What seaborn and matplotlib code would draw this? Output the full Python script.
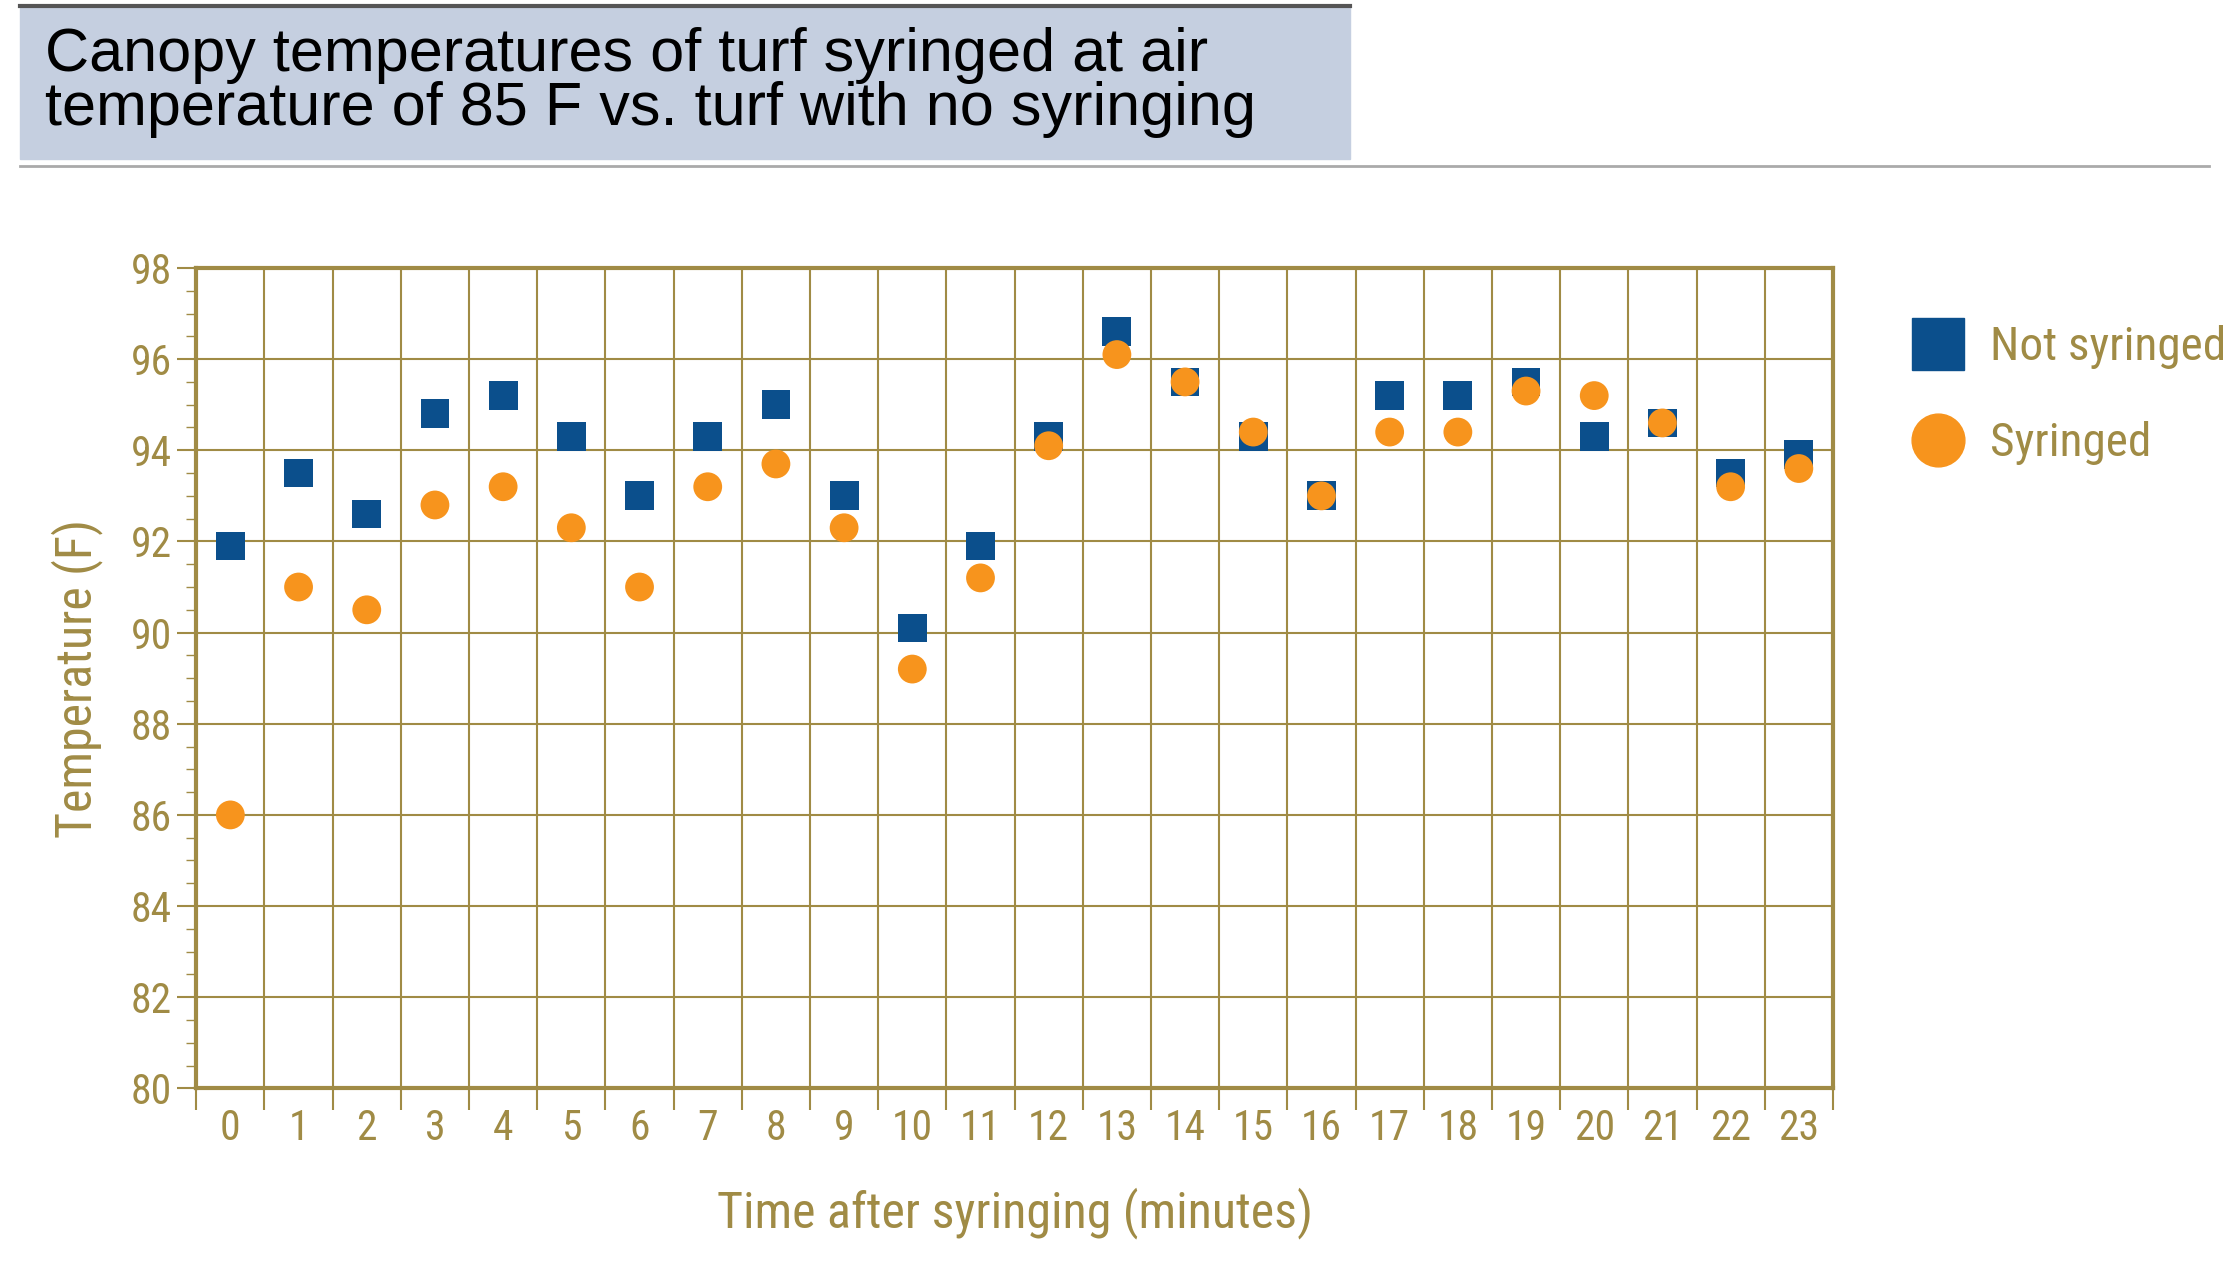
import numpy as np
import pandas as pd
import matplotlib.pyplot as plt
import seaborn as sns
from matplotlib.lines import Line2D

minutes = list(range(24))
not_syringed = [91.9, 93.5, 92.6, 94.8, 95.2, 94.3, 93.0, 94.3, 95.0, 93.0, 90.1, 91.9,
                94.3, 96.6, 95.5, 94.3, 93.0, 95.2, 95.2, 95.5, 94.3, 94.6, 93.5, 93.9]
syringed = [86.0, 91.0, 90.5, 92.8, 93.2, 92.3, 91.0, 93.2, 93.7, 92.3, 89.2, 91.2,
            94.1, 96.1, 95.5, 94.4, 93.0, 94.4, 94.4, 95.3, 95.2, 94.6, 93.2, 93.6]
y_ticks = [80, 82, 84, 86, 88, 90, 92, 94, 96, 98]

olive = '#a08b45'
blue = '#0b4f8c'
orange = '#f7941d'
narrow = ['Liberation Sans Narrow', 'Roboto Condensed', 'DejaVu Sans']

df = pd.DataFrame({'minute': minutes * 2,
                   'temp': not_syringed + syringed,
                   'series': ['Not syringed'] * 24 + ['Syringed'] * 24})

fig = plt.figure(figsize=(22.38, 12.70), dpi=100)
ax = fig.add_axes([0.0877, 0.143, 0.7313, 0.646])

sns.scatterplot(data=df, x='minute', y='temp', hue='series', style='series',
                palette={'Not syringed': blue, 'Syringed': orange},
                markers={'Not syringed': 's', 'Syringed': 'o'},
                s=430, linewidth=0, ax=ax, legend=False, zorder=3)

ax.set_xlim(-0.5, 23.5)
ax.set_ylim(80, 98)
ax.set_xticks(np.arange(-0.5, 24, 1))
ax.set_xticklabels([])
ax.set_xticks(minutes, minor=True)
ax.set_xticklabels([str(m) for m in minutes], minor=True, fontsize=30, color=olive, family=narrow)
ax.tick_params(axis='x', which='major', length=16, width=1.5, color=olive, direction='out')
ax.tick_params(axis='x', which='minor', length=0, pad=14)
ax.set_yticks(y_ticks)
ax.set_yticklabels([str(v) for v in y_ticks], fontsize=30, color=olive, family=narrow)
ax.set_yticks(np.arange(80, 98.1, 0.5), minor=True)
ax.tick_params(axis='y', which='major', length=14, width=1.5, color=olive)
ax.tick_params(axis='y', which='minor', length=7, width=1, color=olive)
ax.grid(True, which='major', color=olive, linewidth=1.5)
ax.set_axisbelow(True)
for sp in ax.spines.values():
    sp.set_color(olive)
    sp.set_linewidth(3)

ax.set_xlabel('Time after syringing (minutes)', fontsize=36, color=olive, family=narrow, labelpad=28)
ax.set_ylabel('Temperature (F)', fontsize=36, color=olive, family=narrow, labelpad=20)

# title box
fig.patches.append(plt.Rectangle((0.009, 0.875), 0.594, 0.12, transform=fig.transFigure,
                                 color='#c5cfe0', zorder=0))
fig.add_artist(Line2D([0.009, 0.603], [0.995, 0.995], color='#555555', lw=3))
fig.add_artist(Line2D([0.009, 0.987], [0.869, 0.869], color='#aaaaaa', lw=2))
fig.text(0.02, 0.935, 'Canopy temperatures of turf syringed at air\ntemperature of 85 F vs. turf with no syringing',
         fontsize=44, family=['Liberation Sans', 'DejaVu Sans'], va='center', ha='left',
         linespacing=0.92, color='black')

# legend
handles = [Line2D([], [], marker='s', color=blue, ls='', markersize=38),
           Line2D([], [], marker='o', color=orange, ls='', markersize=38)]
leg = fig.legend(handles, ['Not syringed', 'Syringed'], loc='upper left',
                 bbox_to_anchor=(0.83, 0.77), frameon=False, labelspacing=1.1,
                 handletextpad=0.1, borderpad=0.2, prop={'family': narrow, 'size': 34})
for t in leg.get_texts():
    t.set_color(olive)

fig.savefig('out.png', dpi=100)
